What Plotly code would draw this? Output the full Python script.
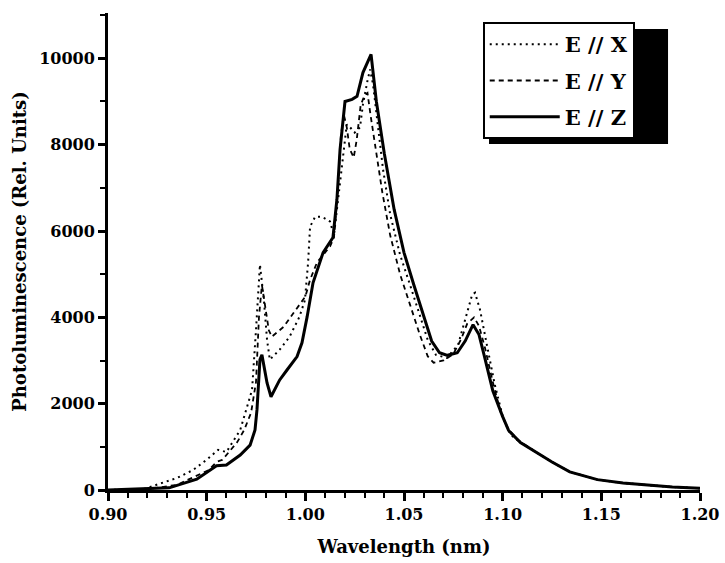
import plotly.graph_objects as go

# ---- data ----
wl_z = [0.900, 0.916, 0.931, 0.945, 0.955, 0.960, 0.967, 0.972, 0.9745, 0.9755, 0.977, 0.978,
        0.9806, 0.9826, 0.987, 0.9907, 0.9958, 0.9983, 1.0009, 1.0039, 1.009, 1.014, 1.016,
        1.0176, 1.0201, 1.0237, 1.0262, 1.0292, 1.0333, 1.036, 1.040, 1.045, 1.050, 1.055,
        1.060, 1.064, 1.068, 1.072, 1.077, 1.081, 1.085, 1.088, 1.091, 1.095, 1.100, 1.103,
        1.109, 1.117, 1.125, 1.134, 1.148, 1.161, 1.175, 1.186, 1.200]
pl_z = [0, 20, 50, 250, 560, 580, 810, 1040, 1390, 1860, 3020, 3130,
        2480, 2160, 2550, 2780, 3090, 3410, 4010, 4800, 5500, 5850, 6730,
        7890, 9000, 9050, 9120, 9670, 10090, 9000, 7800, 6500, 5500, 4750,
        4000, 3450, 3180, 3120, 3180, 3450, 3830, 3600, 3050, 2300, 1700, 1380,
        1100, 870, 650, 420, 240, 160, 110, 70, 40]

wl_x = [0.900, 0.918, 0.935, 0.943, 0.950, 0.9558, 0.960, 0.967, 0.9705, 0.973, 0.975, 0.977,
        0.979, 0.9806, 0.982, 0.987, 0.992, 0.997, 0.9998, 1.0014, 1.0024, 1.005, 1.0085,
        1.0125, 1.0145, 1.0166, 1.019, 1.021, 1.0227, 1.025, 1.0277, 1.0292, 1.0313, 1.0328,
        1.0343, 1.0363, 1.0394, 1.043, 1.048, 1.053, 1.058, 1.062, 1.0662, 1.0718, 1.0774,
        1.081, 1.0845, 1.086, 1.0885, 1.092, 1.096, 1.1002, 1.104, 1.109, 1.117, 1.125,
        1.134, 1.148, 1.161, 1.175, 1.186, 1.200]
pl_x = [0, 20, 280, 460, 700, 930, 880, 1390, 1930, 2320, 3710, 5220,
        4400, 3480, 3020, 3250, 3550, 4010, 4400, 5270, 6100, 6330, 6330,
        6220, 5900, 6730, 7770, 8470, 8400, 8280, 8400, 8930, 9440, 9740,
        9400, 8580, 7420, 6380, 5450, 4760, 4060, 3480, 3130, 3060, 3360,
        3940, 4520, 4570, 4180, 3360, 2440, 1670, 1280, 1100, 870, 650,
        420, 240, 160, 110, 70, 40]

wl_y = [0.900, 0.920, 0.935, 0.946, 0.951, 0.955, 0.958, 0.9655, 0.969, 0.9725, 0.975, 0.9765,
        0.978, 0.9795, 0.9815, 0.983, 0.989, 0.994, 1.000, 1.0024, 1.0059, 1.0125, 1.0145,
        1.0166, 1.018, 1.0195, 1.021, 1.0225, 1.0245, 1.026, 1.028, 1.030, 1.0315, 1.033,
        1.0355, 1.039, 1.043, 1.048, 1.053, 1.058, 1.062, 1.065, 1.070, 1.075, 1.079, 1.082,
        1.0855, 1.088, 1.091, 1.095, 1.099, 1.103, 1.108, 1.117, 1.125, 1.134, 1.148, 1.161,
        1.175, 1.186, 1.200]
pl_y = [0, 20, 120, 350, 460, 650, 700, 1110, 1390, 1790, 2500, 4000,
        4750, 4300, 3700, 3550, 3780, 4100, 4480, 4870, 5270, 5640, 5850,
        7000, 8200, 8700, 8400, 7900, 7700, 8100, 8900, 9150, 9200, 8700,
        7900, 6900, 5900, 5000, 4300, 3600, 3100, 2950, 3000, 3150, 3500, 3850,
        4000, 3800, 3300, 2500, 1800, 1400, 1150, 870, 650, 420, 240, 160,
        110, 70, 40]

names = ["E // X", "E // Y", "E // Z"]
x_ticks = [0.90, 0.95, 1.00, 1.05, 1.10, 1.15, 1.20]
x_tick_text = ["0.90", "0.95", "1.00", "1.05", "1.10", "1.15", "1.20"]
y_ticks = [0, 2000, 4000, 6000, 8000, 10000]
y_tick_text = ["0", "2000", "4000", "6000", "8000", "10000"]

FONT = "DejaVu Serif"

fig = go.Figure()
fig.add_trace(go.Scatter(x=wl_x, y=pl_x, name=names[0], mode="lines", legendgroup="a",
                         line=dict(color="black", width=2, dash="2px,4px")))
fig.add_trace(go.Scatter(x=wl_y, y=pl_y, name=names[1], mode="lines", legendgroup="b",
                         line=dict(color="black", width=1.8, dash="5px,4px")))
fig.add_trace(go.Scatter(x=wl_z, y=pl_z, name=names[2], mode="lines", legendgroup="c",
                         line=dict(color="black", width=3)))

fig.update_layout(
    width=725, height=563,
    margin=dict(l=108, r=25, t=13, b=73, autoexpand=False),
    paper_bgcolor="white", plot_bgcolor="white",
    font=dict(family=FONT, color="black", size=16),
    showlegend=True,
    legend=dict(x=0.633, y=0.981, xanchor="left", yanchor="top",
                bgcolor="white", bordercolor="black", borderwidth=2,
                font=dict(family=FONT, size=21, color="black", weight="bold"),
                itemwidth=70, tracegroupgap=6, traceorder="grouped"),
    shapes=[dict(type="rect", xref="paper", yref="paper",
                 x0=0.6436, x1=0.946, y0=0.7254, y1=0.9665,
                 fillcolor="black", line=dict(width=0), layer="above")],
)
fig.update_xaxes(
    range=[0.90, 1.20], showgrid=False, zeroline=False, automargin=False,
    showline=True, linewidth=3, linecolor="black",
    ticks="outside", ticklen=8, tickwidth=3, tickcolor="black",
    tickvals=x_ticks, ticktext=x_tick_text,
    tickfont=dict(family=FONT, size=16, weight="bold"),
    minor=dict(dtick=0.01, tick0=0.90, ticks="outside", ticklen=5, tickwidth=2, tickcolor="black"),
    title=dict(text="Wavelength (nm)", font=dict(family=FONT, size=18, weight="bold"), standoff=18),
)
fig.update_yaxes(
    range=[0, 11050], showgrid=False, zeroline=False, automargin=False,
    showline=True, linewidth=3, linecolor="black",
    ticks="outside", ticklen=7, tickwidth=3, tickcolor="black",
    tickvals=y_ticks, ticktext=y_tick_text,
    tickfont=dict(family=FONT, size=16, weight="bold"),
    minor=dict(dtick=1000, tick0=0, ticks="outside", ticklen=5, tickwidth=2, tickcolor="black"),
    title=dict(text="Photoluminescence (Rel. Units)", font=dict(family=FONT, size=18, weight="bold"), standoff=8),
)

fig.write_html("out.html", config={"displayModeBar": False},
               post_script="document.body.style.margin='0';document.body.style.overflow='hidden';")
